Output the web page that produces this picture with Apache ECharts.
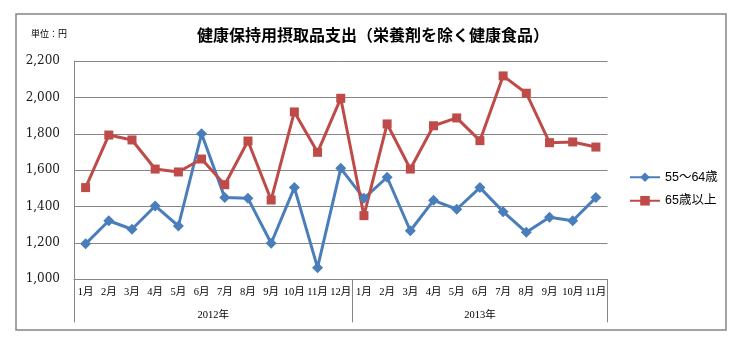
<!DOCTYPE html>
<html>
<head>
<meta charset="utf-8">
<script src="https://cdn.jsdelivr.net/npm/echarts@6/dist/echarts.min.js"></script>
<style>
  html, body { margin: 0; padding: 0; background: #fff; }
  #chart { width: 740px; height: 350px; }
</style>
</head>
<body>
<div id="chart"></div>
<script>
// Monthly categories: Jan 2012 – Nov 2013
const months = ['1月','2月','3月','4月','5月','6月','7月','8月','9月','10月','11月','12月',
                '1月','2月','3月','4月','5月','6月','7月','8月','9月','10月','11月'];
const years = ['2012年', '2013年'];
const seriesNames = ['55～64歳', '65歳以上'];

// Spending (yen)
const age55to64 = [1195, 1322, 1275, 1403, 1293, 1800, 1449, 1445, 1198, 1504, 1064, 1610,
                   1445, 1561, 1267, 1434, 1385, 1504, 1372, 1258, 1341, 1322, 1449];
const age65plus = [1504, 1793, 1766, 1606, 1590, 1661, 1520, 1760, 1436, 1920, 1698, 1995,
                   1350, 1854, 1606, 1844, 1887, 1762, 2118, 2023, 1751, 1755, 1727];

const yTicks = { min: 1000, max: 2200, step: 200 };

const gray = '#868686';
const chart = echarts.init(document.getElementById('chart'));

chart.setOption({
  animation: false,
  backgroundColor: '#fff',
  title: {
    text: '健康保持用摂取品支出（栄養剤を除く健康食品）',
    left: 368, top: 22, textAlign: 'center',
    textStyle: { fontFamily: 'Noto Sans CJK JP', fontSize: 16, fontWeight: 'bold', color: '#000' }
  },
  graphic: [
    { type: 'rect', shape: { x: 16, y: 14, width: 710, height: 316 },
      style: { fill: 'none', stroke: gray, lineWidth: 1.5 }, silent: true },
    { type: 'text', left: 31, top: 29,
      style: { text: '単位：円', fontFamily: 'Noto Sans CJK JP', fontSize: 9, fill: '#000' } }
  ],
  legend: {
    orient: 'vertical', left: 624, top: 166,
    itemWidth: 30, itemHeight: 12, itemGap: 11,
    data: seriesNames,
    textStyle: { fontFamily: 'Liberation Sans, Noto Sans CJK JP', fontSize: 12.5, color: '#000' }
  },
  grid: { left: 74, right: 132.5, top: 61, bottom: 70.7, containLabel: false },
  xAxis: [
    {
      type: 'category', data: months, boundaryGap: true, position: 'bottom',
      axisLine: { show: true, lineStyle: { color: gray, width: 1 } },
      axisTick: { show: true, length: 43, interval: i => i === 0 || i === 12,
                  lineStyle: { color: gray, width: 1 } },
      axisLabel: { interval: 0, margin: 8, fontSize: 10.5, color: '#000',
                   fontFamily: 'Liberation Serif, Noto Sans CJK JP' },
      splitLine: { show: false }
    },
    {
      type: 'value', min: 0, max: months.length, interval: 0.5, position: 'bottom',
      axisLine: { show: false }, axisTick: { show: false }, splitLine: { show: false },
      axisLabel: {
        margin: 31, fontSize: 10.5, color: '#000', fontFamily: 'Liberation Serif, Noto Sans CJK JP',
        showMinLabel: true, showMaxLabel: true,
        formatter: v => v === 6 ? years[0] : (v === 17.5 ? years[1] : '')
      }
    }
  ],
  yAxis: {
    type: 'value', min: yTicks.min, max: yTicks.max, interval: yTicks.step,
    axisLine: { show: true, lineStyle: { color: gray, width: 1 } },
    axisTick: { show: false },
    splitLine: { show: true, lineStyle: { color: gray, width: 1 } },
    axisLabel: {
      margin: 14, fontSize: 12, color: '#1a1a1a', fontFamily: 'DejaVu Serif',
      formatter: v => v.toLocaleString('en-US')
    }
  },
  series: [
    {
      name: seriesNames[0], type: 'line', data: age55to64, xAxisIndex: 0,
      symbol: 'diamond', symbolSize: 11,
      lineStyle: { color: '#4A7EBB', width: 3 },
      itemStyle: { color: '#4A7EBB' }
    },
    {
      name: seriesNames[1], type: 'line', data: age65plus, xAxisIndex: 0,
      symbol: 'rect', symbolSize: 9,
      lineStyle: { color: '#BE4B48', width: 3 },
      itemStyle: { color: '#BE4B48' }
    }
  ]
});
</script>
</body>
</html>
